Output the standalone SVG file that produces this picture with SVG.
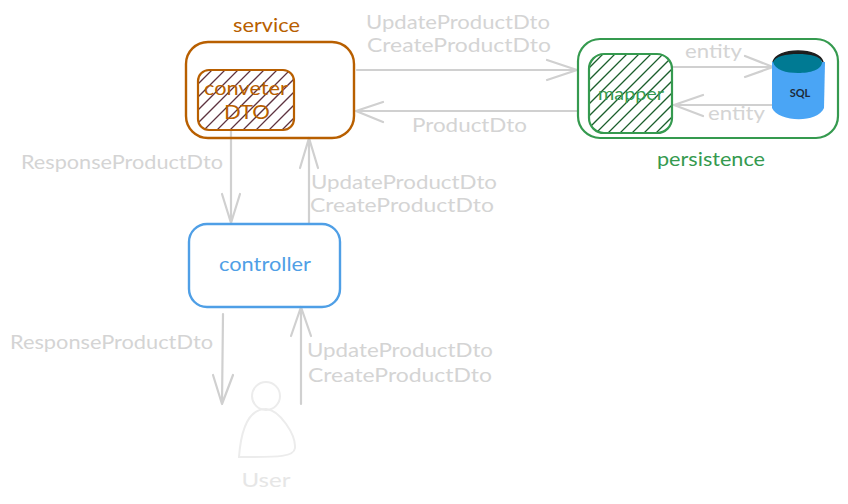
<svg xmlns="http://www.w3.org/2000/svg" width="848" height="504" viewBox="0 0 848 504">
<style>
text{font-family:"Lato","Noto Sans",sans-serif;font-size:20px}
.lab{fill:#d4d4d4;font-size:20px}
.conn{fill:none;stroke:#d0d0d0;stroke-width:2.2;stroke-linecap:round;stroke-linejoin:round}
.o{fill:#b85f00}.g{fill:#359a4f}.b{fill:#4f9fe6}
</style>
<defs>
<clipPath id="c1"><rect x="198" y="70" width="96" height="60" rx="11"/></clipPath>
<clipPath id="c2"><rect x="589" y="54" width="83" height="79" rx="15"/></clipPath>
</defs>
<rect width="848" height="504" fill="#fff"/>
<g id="connectors">
<path class="conn" d="M357 70H577M547 60L577 70L547 80"/>
<path class="conn" d="M578 111H356M383 102L356 111L383 122"/>
<path class="conn" d="M672 67L772 67M745 56L773 67L745 77"/>
<path class="conn" d="M773 105H674M703 95L674 105L703 116"/>
<path class="conn" d="M231 131V222M222 194L231 223L240 194"/>
<path class="conn" d="M309 224V138M300 168L309 138L318 168"/>
<path class="conn" d="M223 314L222 404M213 375L222 404L233 375"/>
<path class="conn" d="M301 404V307M291 336L301 307L311 336"/>
</g>
<g id="service">
<rect x="186" y="42" width="168" height="96" rx="22" fill="none" stroke="#b85f00" stroke-width="2.4"/>
<text x="233" y="32" class="o" textLength="67" lengthAdjust="spacingAndGlyphs">service</text>
</g>
<g id="converter">
<path clip-path="url(#c1)" fill="none" stroke="#5e3340" stroke-width="1.3" d="M190 92L215 67M190 105L228 67M190 118L241 67M190 131L254 67M197 137L267 67M210 137L280 67M223 137L293 67M236 137L300 73M249 137L300 86M262 137L300 99M275 137L300 112"/>
<rect x="198" y="70" width="96" height="60" rx="11" fill="none" stroke="#b85f00" stroke-width="2.2"/>
<text x="246" y="95" class="o" text-anchor="middle" textLength="84" lengthAdjust="spacingAndGlyphs">conveter</text>
<text x="247" y="119" class="o" text-anchor="middle" textLength="46" lengthAdjust="spacingAndGlyphs">DTO</text>
</g>
<g id="persistence">
<rect x="578" y="39" width="260" height="99" rx="22" fill="none" stroke="#359a4f" stroke-width="2.2"/>
<text x="711" y="166" class="g" text-anchor="middle" textLength="108" lengthAdjust="spacingAndGlyphs">persistence</text>
</g>
<g id="mapper">
<rect x="589" y="54" width="83" height="79" rx="15" fill="#fff"/>
<path clip-path="url(#c2)" fill="none" stroke="#1b5e2c" stroke-width="1.3" d="M585 72L607 50M585 84L619 50M585 96L631 50M585 108L643 50M585 120L655 50M585 132L667 50M585 144L679 50M595 146L680 61M607 146L680 73M619 146L680 85M631 146L680 97M643 146L680 109M655 146L680 121"/>
<rect x="589" y="54" width="83" height="79" rx="15" fill="none" stroke="#359a4f" stroke-width="2.2"/>
<text x="631" y="100" class="g" text-anchor="middle" textLength="66" lengthAdjust="spacingAndGlyphs" style="font-size:18px">mapper</text>
</g>
<g id="sql">
<path d="M772 62V108C778 122 817 124 824 108L825 62Z" fill="#4aa5f5"/>
<path d="M773 62C775 55 785 51 798 51C811 51 821 55 823 62C820 56 810 54 798 54C786 54 776 56 773 62Z" fill="#1e1e1e" stroke="#1e1e1e" stroke-width="1.5"/>
<path d="M773 62C776 56 786 54 798 54C810 54 820 56 822 62C822 70 810 73 798 73C786 73 775 70 773 62Z" fill="#007a93"/>
<text x="800" y="97" text-anchor="middle" fill="#1e2a38" style="font-size:11px;font-weight:700">SQL</text>
</g>
<g id="controller">
<rect x="189" y="224" width="151" height="83" rx="18" fill="none" stroke="#4f9fe6" stroke-width="2.4"/>
<text x="265" y="271" class="b" text-anchor="middle" textLength="92" lengthAdjust="spacingAndGlyphs">controller</text>
</g>
<g id="user">
<circle cx="266" cy="396" r="14" fill="none" stroke="#ececec" stroke-width="2"/>
<path d="M239 457C241 430 248 409 266 409C280 410 296 435 295 448C294 457 280 457 239 457Z" fill="none" stroke="#ececec" stroke-width="2"/>
<text x="266" y="487" text-anchor="middle" fill="#e6e6e6" textLength="49" lengthAdjust="spacingAndGlyphs">User</text>
</g>
<g id="labels">
<text class="lab" x="366" y="29" textLength="184" lengthAdjust="spacingAndGlyphs">UpdateProductDto</text>
<text class="lab" x="367" y="52" textLength="184" lengthAdjust="spacingAndGlyphs">CreateProductDto</text>
<text class="lab" x="412" y="132" textLength="115" lengthAdjust="spacingAndGlyphs">ProductDto</text>
<text class="lab" x="685" y="58" textLength="57" lengthAdjust="spacingAndGlyphs">entity</text>
<text class="lab" x="708" y="120" textLength="57" lengthAdjust="spacingAndGlyphs">entity</text>
<text class="lab" x="21" y="169" textLength="202" lengthAdjust="spacingAndGlyphs">ResponseProductDto</text>
<text class="lab" x="311" y="189" textLength="186" lengthAdjust="spacingAndGlyphs">UpdateProductDto</text>
<text class="lab" x="310" y="212" textLength="184" lengthAdjust="spacingAndGlyphs">CreateProductDto</text>
<text class="lab" x="10" y="349" textLength="203" lengthAdjust="spacingAndGlyphs">ResponseProductDto</text>
<text class="lab" x="307" y="357" textLength="186" lengthAdjust="spacingAndGlyphs">UpdateProductDto</text>
<text class="lab" x="308" y="382" textLength="184" lengthAdjust="spacingAndGlyphs">CreateProductDto</text>
</g>
</svg>
